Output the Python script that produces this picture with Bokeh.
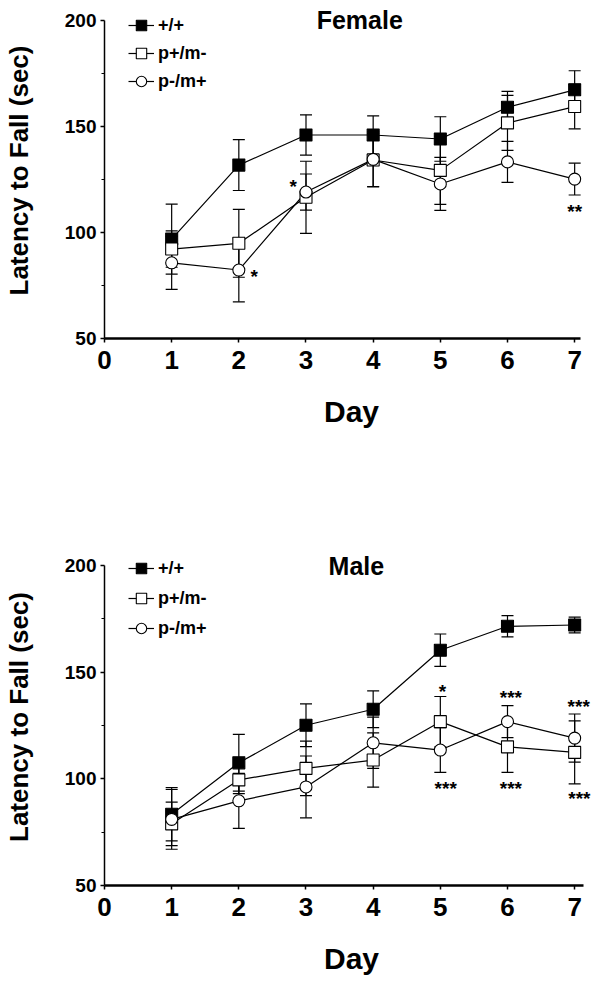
from bokeh.plotting import figure
from bokeh.models import (ColumnDataSource, Whisker, TeeHead, FixedTicker, Label,
                          Legend, LegendItem, Range1d)
from bokeh.layouts import column
from bokeh.embed import file_html
from bokeh.resources import INLINE

# ---------------- data ----------------
days = [1, 2, 3, 4, 5, 6, 7]
x_ticks = [0, 1, 2, 3, 4, 5, 6, 7]
y_ticks = [50, 100, 150, 200]
y_minor_ticks = [75, 125, 175]
series_names = ["+/+", "p+/m-", "p-/m+"]

# Female
female_wt = [96.9, 131.8, 146.0, 146.0, 144.1, 159.1, 167.3]
female_wt_err = [16.5, 12.0, 9.5, 9.0, 10.5, 7.5, 9.0]
female_pm = [92.2, 94.9, 116.6, 134.2, 129.3, 151.7, 159.4]
female_pm_err = [8.6, 16.0, 17.0, 12.5, 16.0, 13.0, 10.5]
female_mp = [85.7, 82.3, 119.1, 134.5, 122.9, 133.3, 125.2]
female_mp_err = [12.5, 15.0, 8.5, 13.0, 12.5, 9.7, 7.5]
female_star_x = [2.81, 2.23, 7.0]
female_star_y = [123.6, 81.3, 111.9]
female_star_text = ["*", "*", "**"]

# Male
male_wt = [83.4, 107.5, 125.1, 132.6, 160.3, 171.5, 172.1]
male_wt_err = [12.5, 13.3, 10.0, 8.6, 7.6, 5.0, 3.7]
male_pm = [78.9, 99.5, 104.9, 108.8, 126.8, 115.0, 112.4]
male_pm_err = [10.2, 6.4, 12.8, 12.7, 11.8, 12.0, 14.8]
male_mp = [81.0, 89.7, 96.2, 116.9, 113.5, 126.8, 119.1]
male_mp_err = [14.0, 12.9, 14.5, 12.0, 10.5, 7.5, 11.3]
male_star_x = [5.03, 6.05, 7.06, 5.08, 6.05, 7.07]
male_star_y = [142.9, 139.8, 135.9, 97.3, 97.3, 92.6]
male_star_text = ["*", "***", "***", "***", "***", "***"]

FONT = "Liberation Sans"


def make_panel(title, title_x, wt, wt_err, pm, pm_err, mp, mp_err,
               star_x, star_y, star_text, height, y_end, border_top,
               border_bottom, legend_spacing, x_bound):
    p = figure(width=600, height=height, output_backend="svg",
               toolbar_location=None, x_range=Range1d(0, 7.355),
               y_range=Range1d(50, y_end), min_border_left=103,
               min_border_right=2, min_border_top=border_top,
               min_border_bottom=border_bottom)
    p.outline_line_color = None
    p.grid.visible = False
    p.background_fill_color = "white"

    # axes
    xa = p.xaxis[0]
    xa.ticker = FixedTicker(ticks=x_ticks)
    xa.bounds = (0, x_bound)
    xa.axis_line_width = 2.5
    xa.major_tick_line_width = 1.5
    xa.major_tick_out = 4
    xa.major_tick_in = 0
    xa.minor_tick_line_color = None
    xa.major_label_standoff = 8
    xa.major_label_text_font = FONT
    xa.major_label_text_font_style = "bold"
    xa.major_label_text_font_size = "26px"
    xa.major_label_text_color = "black"
    xa.axis_label = "Day"
    xa.axis_label_text_font = FONT
    xa.axis_label_text_font_style = "bold"
    xa.axis_label_text_font_size = "30px"
    xa.axis_label_text_color = "black"
    xa.axis_label_standoff = 23

    ya = p.yaxis[0]
    ya.ticker = FixedTicker(ticks=y_ticks, minor_ticks=y_minor_ticks)
    ya.bounds = (50, 200)
    ya.axis_line_width = 1.5
    ya.major_tick_line_width = 1.5
    ya.major_tick_out = 4
    ya.major_tick_in = 0
    ya.minor_tick_out = 3
    ya.minor_tick_in = 0
    ya.minor_tick_line_width = 1.2
    ya.major_label_standoff = 4
    ya.major_label_text_font = FONT
    ya.major_label_text_font_style = "bold"
    ya.major_label_text_font_size = "19px"
    ya.major_label_text_color = "black"
    ya.axis_label = "Latency to Fall (sec)"
    ya.axis_label_text_font = FONT
    ya.axis_label_text_font_style = "bold"
    ya.axis_label_text_font_size = "26px"
    ya.axis_label_text_color = "black"
    ya.axis_label_standoff = 28

    series = [(wt, wt_err, "square", "black"),
              (pm, pm_err, "square", "white"),
              (mp, mp_err, "circle", "white")]

    # error bars
    for vals, errs, _, _ in series:
        src = ColumnDataSource(dict(x=days,
                                    upper=[v + e for v, e in zip(vals, errs)],
                                    lower=[v - e for v, e in zip(vals, errs)]))
        w = Whisker(source=src, base="x", upper="upper", lower="lower",
                    dimension="height", line_color="black", line_width=1.2,
                    upper_head=TeeHead(size=12, line_color="black", line_width=1.2),
                    lower_head=TeeHead(size=12, line_color="black", line_width=1.2))
        p.add_layout(w)

    line_rs = []
    for vals, _, _, _ in series:
        line_rs.append(p.line(days, vals, line_color="black", line_width=1.2))
    scat_rs = []
    for vals, _, marker, fill in series:
        scat_rs.append(p.scatter(days, vals, marker=marker, size=12,
                                 fill_color=fill, line_color="black",
                                 line_width=1.1))

    items = [LegendItem(label=n, renderers=[lr, sr])
             for n, lr, sr in zip(series_names, line_rs, scat_rs)]
    legend = Legend(items=items, location=(24, 243), orientation="vertical",
                    glyph_width=26, glyph_height=28, label_height=28,
                    spacing=legend_spacing, padding=0, margin=0,
                    label_standoff=4, label_text_font=FONT,
                    label_text_font_style="bold", label_text_font_size="18px",
                    label_text_color="black", border_line_color=None,
                    background_fill_alpha=0)
    p.add_layout(legend)

    p.add_layout(Label(x=title_x, y=200, text=title, text_font=FONT,
                       text_font_style="bold", text_font_size="25px",
                       text_align="center", text_baseline="middle",
                       text_color="black"))

    for sx, sy, st in zip(star_x, star_y, star_text):
        p.add_layout(Label(x=sx, y=sy, text=st, text_font=FONT,
                           text_font_style="bold", text_font_size="19px",
                           text_align="center", text_baseline="middle",
                           y_offset=-4, text_color="black"))
    return p


top = make_panel("Female", 3.80, female_wt, female_wt_err, female_pm,
                 female_pm_err, female_mp, female_mp_err,
                 female_star_x, female_star_y, female_star_text,
                 height=540, y_end=208.49, border_top=2, border_bottom=202,
                 legend_spacing=0, x_bound=7.08)
bottom = make_panel("Male", 3.75, male_wt, male_wt_err, male_pm,
                    male_pm_err, male_mp, male_mp_err,
                    male_star_x, male_star_y, male_star_text,
                    height=444, y_end=207.97, border_top=8, border_bottom=99,
                    legend_spacing=2, x_bound=7.13)

layout = column(top, bottom, spacing=0)
open("out.html", "w").write(file_html(layout, INLINE))
